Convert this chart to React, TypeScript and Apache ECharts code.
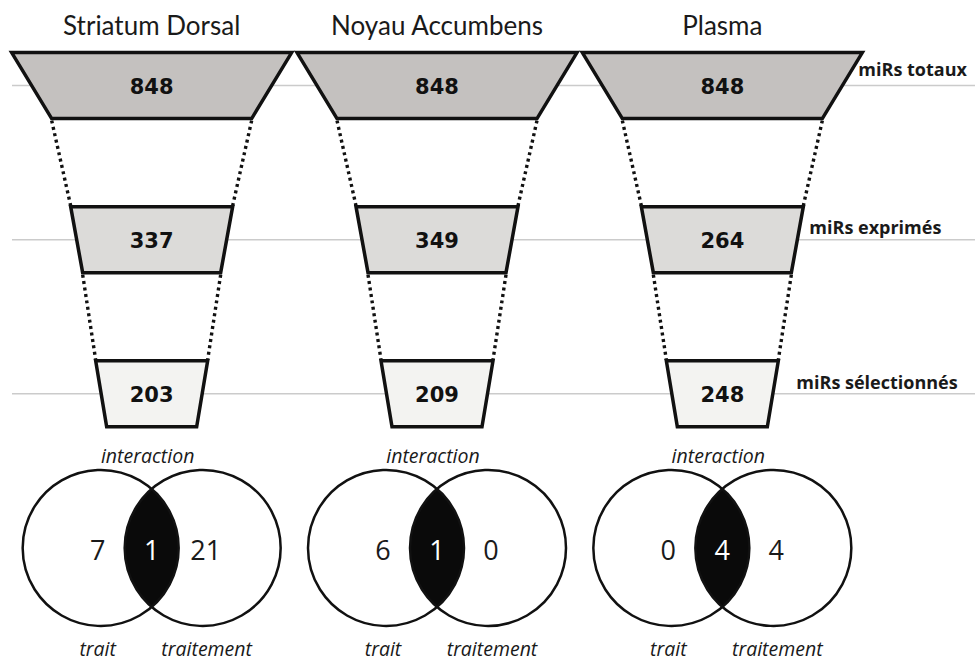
import React, { useEffect, useRef } from "react";
import * as echarts from "echarts";

// ---- data ----
const REGIONS = ["Striatum Dorsal", "Noyau Accumbens", "Plasma"];
const LEVELS = ["miRs totaux", "miRs exprimés", "miRs sélectionnés"];
const TOTAL = [848, 848, 848];
const EXPRESSED = [337, 349, 264];
const SELECTED = [203, 209, 248];
const TRAIT = [7, 6, 0];
const INTERACTION = [1, 1, 4];
const TRAITEMENT = [21, 0, 4];
const VENN_LABELS = ["trait", "interaction", "traitement"];

const LEVEL_VALUES = [TOTAL, EXPRESSED, SELECTED];

// ---- layout / style constants ----
const SHAPES = [
  { top: 140, bottom: 100, half: 33, fill: "#c4c1bf" },
  { top: 81, bottom: 69, half: 33, fill: "#dcdbd9" },
  { top: 56, bottom: 45, half: 33, fill: "#f3f3f1" },
];
const LEVEL_LABEL_OFFSET = [
  { dx: 136, dy: -17 },
  { dx: 87, dy: -13 },
  { dx: 74, dy: -12 },
];
const VENN_D = 51;
const VENN_R = 78;
const INK = "#111111";

const funnelData: number[][] = [];
REGIONS.forEach((_, r) => {
  LEVEL_VALUES.forEach((vals, l) => funnelData.push([r, l, vals[r]]));
});
const vennData = REGIONS.map((_, r) => [r, 3, TRAIT[r], INTERACTION[r], TRAITEMENT[r]]);
const guideData = LEVELS.map((_, l) => [2, l]);

function renderFunnel(params: any, api: any) {
  const r = api.value(0);
  const l = api.value(1);
  const v = api.value(2);
  const [cx, cy] = api.coord([r, l]);
  const s = SHAPES[l];
  const children: any[] = [];
  if (l > 0) {
    const [px, py] = api.coord([r, l - 1]);
    const ps = SHAPES[l - 1];
    [-1, 1].forEach((sg) => {
      children.push({
        type: "line",
        shape: { x1: px + sg * ps.bottom, y1: py + ps.half + 2, x2: cx + sg * s.top, y2: cy - s.half - 1 },
        style: { stroke: INK, lineWidth: 3.4, lineDash: [3, 3.5] },
      });
    });
  } else {
    children.push({
      type: "text",
      x: cx,
      y: cy - 61,
      style: {
        text: REGIONS[r],
        fontFamily: "Lato",
        fontSize: 26,
        fill: "#1a1a1a",
        align: "center",
        verticalAlign: "middle",
      },
    });
  }
  children.push({
    type: "polygon",
    shape: {
      points: [
        [cx - s.top, cy - s.half],
        [cx + s.top, cy - s.half],
        [cx + s.bottom, cy + s.half],
        [cx - s.bottom, cy + s.half],
      ],
    },
    style: { fill: s.fill, stroke: INK, lineWidth: 3.5, lineJoin: "miter" },
  });
  children.push({
    type: "text",
    x: cx,
    y: cy + 1,
    style: {
      text: String(v),
      fontFamily: "DejaVu Sans",
      fontWeight: "bold",
      fontSize: 21,
      fill: INK,
      align: "center",
      verticalAlign: "middle",
    },
  });
  return { type: "group", children };
}

function renderVenn(params: any, api: any) {
  const r = api.value(0);
  const [cx, cy] = api.coord([r, api.value(1)]);
  const a = VENN_D;
  const R = VENN_R;
  const alpha = Math.acos(a / R);
  const pts: number[][] = [];
  const N = 40;
  for (let i = 0; i <= N; i++) {
    const p = -alpha + (2 * alpha * i) / N;
    pts.push([cx - a + R * Math.cos(p), cy + R * Math.sin(p)]);
  }
  for (let i = 0; i <= N; i++) {
    const p = Math.PI - alpha + (2 * alpha * i) / N;
    pts.push([cx + a + R * Math.cos(p), cy + R * Math.sin(p)]);
  }
  const numStyle = (text: string, fill: string) => ({
    text,
    fontFamily: "Open Sans",
    fontSize: 27,
    fill,
    align: "center",
    verticalAlign: "middle",
  });
  const labStyle = (text: string) => ({
    text,
    fontFamily: "Open Sans",
    fontStyle: "italic",
    fontSize: 19.5,
    fill: "#1a1a1a",
    align: "center",
    verticalAlign: "middle",
  });
  const children: any[] = [
    { type: "circle", shape: { cx: cx - a, cy, r: R }, style: { fill: "#ffffff" } },
    { type: "circle", shape: { cx: cx + a, cy, r: R }, style: { fill: "#ffffff" } },
    { type: "polygon", shape: { points: pts }, style: { fill: "#0a0a0a" } },
    { type: "circle", shape: { cx: cx - a, cy, r: R }, style: { fill: "none", stroke: INK, lineWidth: 2.5 } },
    { type: "circle", shape: { cx: cx + a, cy, r: R }, style: { fill: "none", stroke: INK, lineWidth: 2.5 } },
    { type: "text", x: cx - 54, y: cy + 2, style: numStyle(String(api.value(2)), "#1a1a1a") },
    { type: "text", x: cx, y: cy + 2, style: numStyle(String(api.value(3)), "#ffffff") },
    { type: "text", x: cx + 54, y: cy + 2, style: numStyle(String(api.value(4)), "#1a1a1a") },
    { type: "text", x: cx - 4, y: cy - 92, style: labStyle(VENN_LABELS[1]) },
    { type: "text", x: cx - 54, y: cy + 101, style: labStyle(VENN_LABELS[0]) },
    { type: "text", x: cx + 55, y: cy + 101, style: labStyle(VENN_LABELS[2]) },
  ];
  return { type: "group", children };
}

function renderGuide(params: any, api: any) {
  const l = api.value(1);
  const [x, y] = api.coord([api.value(0), l]);
  const off = LEVEL_LABEL_OFFSET[l];
  return {
    type: "group",
    children: [
      {
        type: "line",
        shape: { x1: 12, y1: y, x2: api.getWidth(), y2: y },
        style: { stroke: "#cbcbcb", lineWidth: 1.5 },
      },
      {
        type: "text",
        x: x + off.dx,
        y: y + off.dy,
        style: {
          text: LEVELS[l],
          fontFamily: "Open Sans",
          fontWeight: "bold",
          fontSize: 18,
          fill: "#1a1a1a",
          align: "left",
          verticalAlign: "middle",
        },
      },
    ],
  };
}

export default function App() {
  const ref = useRef<HTMLDivElement>(null);
  useEffect(() => {
    if (!ref.current) return;
    const chart = echarts.init(ref.current, null, { renderer: "svg" });
    chart.setOption({
      animation: false,
      backgroundColor: "#ffffff",
      grid: { left: 9, right: 110, top: 8.5, bottom: 37 },
      xAxis: { type: "category", data: REGIONS, show: false },
      yAxis: { type: "category", data: [...LEVELS, "Venn"], inverse: true, show: false },
      series: [
        { type: "custom", name: "guides", data: guideData, renderItem: renderGuide, encode: { x: 0, y: 1 }, clip: false, z: 1 },
        { type: "custom", name: "funnel", data: funnelData, renderItem: renderFunnel, encode: { x: 0, y: 1 }, clip: false, z: 2 },
        { type: "custom", name: "venn", data: vennData, renderItem: renderVenn, encode: { x: 0, y: 1 }, clip: false, z: 2 },
      ],
    });
    return () => chart.dispose();
  }, []);
  return (
    <div
      ref={ref}
      style={{ position: "fixed", left: 0, top: 0, width: 975, height: 662, background: "#fff" }}
    />
  );
}
